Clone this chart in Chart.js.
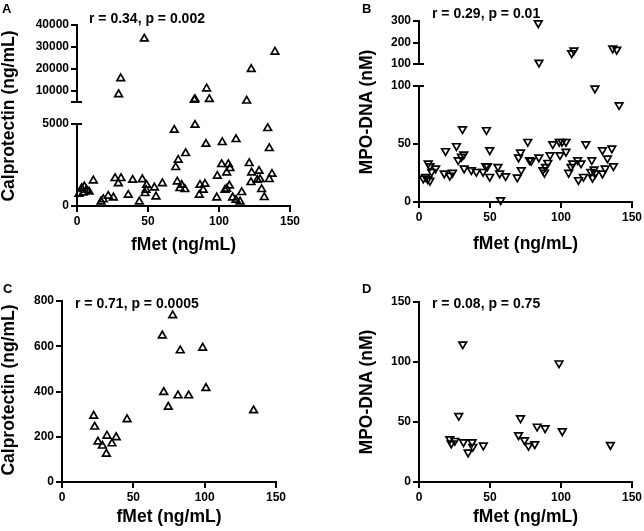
<!DOCTYPE html>
<html>
<head>
<meta charset="utf-8">
<script src="https://cdn.jsdelivr.net/npm/chart.js@4.4.0/dist/chart.umd.min.js"></script>
<style>
  body { margin: 0; background: #fff; }
  #fig { position: relative; width: 644px; height: 531px; overflow: hidden;
         font-family: "Liberation Sans", Arial, sans-serif; font-weight: bold; color: #000; }
  .box { position: absolute; }
  .lbl { position: absolute; white-space: nowrap; line-height: 1; }
  .letter { font-size: 13px; }
  .stat { font-size: 14px; }
  .ytitle { font-size: 17.5px; transform: translate(-50%, -50%) rotate(-90deg); }
</style>
</head>
<body>
<div id="fig">
  <div class="box"><canvas id="aHi"></canvas></div>
  <div class="box"><canvas id="aLo"></canvas></div>
  <div class="box"><canvas id="bHi"></canvas></div>
  <div class="box"><canvas id="bLo"></canvas></div>
  <div class="box"><canvas id="cCh"></canvas></div>
  <div class="box"><canvas id="dCh"></canvas></div>

  <div class="lbl letter" style="left:2px;top:2px">A</div>
  <div class="lbl letter" style="left:362px;top:2px">B</div>
  <div class="lbl letter" style="left:3px;top:282px">C</div>
  <div class="lbl letter" style="left:362px;top:282px">D</div>

  <div class="lbl stat" style="left:89px;top:11px">r = 0.34, p = 0.002</div>
  <div class="lbl stat" style="left:432px;top:6px">r = 0.29, p = 0.01</div>
  <div class="lbl stat" style="left:75px;top:296px">r = 0.71, p = 0.0005</div>
  <div class="lbl stat" style="left:432px;top:296px">r = 0.08, p = 0.75</div>

  <div class="lbl ytitle" style="left:9px;top:116px">Calprotectin (ng/mL)</div>
  <div class="lbl ytitle" style="left:367px;top:112px">MPO-DNA (nM)</div>
  <div class="lbl ytitle" style="left:9px;top:390px">Calprotectin (ng/mL)</div>
  <div class="lbl ytitle" style="left:367px;top:392px">MPO-DNA (nM)</div>
</div>

<script>
// A: fMet vs calprotectin, all samples
const aX = [1.4, 3.3, 5.1, 6.8, 8.5, 4.4, 11.5, 16.9, 18.5, 22, 25.6, 26.8, 31, 29.1, 36.1, 39.2,
  43.9, 46, 47.9, 49, 48.6, 54.5, 55.6, 60.1, 68.5, 71.3, 69.5, 70.6, 72.5, 76.5, 83.1, 90.8,
  102.3, 112, 134.3, 135.4, 73.7, 76, 86.6, 88.9, 86.1, 90.1, 98.8, 101.9, 106.6, 105.4, 107.7,
  98.4, 105.4, 107.3, 104.2, 116, 109.6, 112, 114.8, 121.3, 123, 128.2, 128.9, 122.5, 135.4,
  137.3, 130, 131.9, 127,
  47.4, 30.8, 29.3, 139.4, 122.7, 91.3, 83.1, 82.6, 93.2, 119.5];
const aY = [732, 1080, 1180, 976, 870, 811, 1545, 264, 406, 610, 508, 1690, 1690, 1380, 671, 1585,
  264, 1625, 773, 1280, 976, 1117, 569, 1380, 4634, 2805, 2360, 1480, 1080, 3213, 4939, 3780,
  3884, 4067, 4738, 3518, 1280, 1018, 1280, 976, 671, 1341, 1829, 2543, 2543, 2030, 2298,
  508, 1037, 1238, 976, 835, 508, 366, 264, 2603, 2030, 2134, 1628, 1445, 1628,
  1951, 1018, 530, 1585,
  33750, 15700, 8460, 27800, 19900, 11100, 6250, 5960, 6250, 5540];

// B: fMet vs MPO-DNA, all samples
const bX = [3, 4.7, 6.1, 7.7, 6.5, 7.7, 8.9, 11.7, 17.8, 21.7, 23.6, 18.7, 26.4, 27.6, 29.9, 31.5,
  30.6, 31.8, 36.9, 40.4, 45.1, 47, 48.2, 47.5, 49.8, 49.8, 55.6, 56.8, 57.5, 61, 69.2, 70.1,
  71.5, 72, 76.6, 77.8, 79, 84.4, 87.2, 88.4, 89.1, 90.7, 92.3, 94.2, 98.8, 100.7, 103.5, 99.3,
  103.5, 105.4, 107.1, 108.2, 111.7, 114.1, 112.3, 115.8, 117.5, 121.7, 123.3, 121, 124.1, 122.2,
  129.2, 132.7, 135.8, 131.1, 129.2, 136.9, 123.9, 140.9,
  83.6, 84.1, 107, 108.6, 135.8, 138.6];
const bY = [20.4, 21.8, 19.8, 18.4, 33.4, 31, 26.1, 29, 24.7, 22.7, 25.3, 44, 48.3, 36.2, 39.1, 41.1,
  62.9, 29, 27.6, 26.1, 26.1, 31, 31, 62.1, 44.8, 21.8, 30.4, 24.7, 1.7, 22.4, 21.3, 38.5,
  42.8, 27.6, 52, 36.2, 35.6, 38.5, 27.6, 25.3, 30.4, 33.9, 40.5, 50, 52, 52, 52, 40.5,
  43.4, 25.3, 30.4, 33.4, 36.2, 33.4, 19, 21.8, 50, 36.2, 28.2, 26.1, 24.7, 21,
  44.8, 37.7, 46.3, 29, 24.7, 31, 98, 83.6,
  290, 107, 151, 164, 173, 167];

// C: subgroup, calprotectin
const cX = [22.2, 22.9, 25.2, 28.3, 31.5, 31.1, 35, 38, 45.6, 70.3, 77.6, 71.3, 74.5, 82.9, 81.3,
  88.8, 98.6, 100.9, 134.3];
const cY = [292, 244, 178, 160, 204, 124, 170, 197, 277, 647, 736, 397, 332, 581, 382,
  382, 593, 415, 316];

// D: subgroup, MPO-DNA
const dX = [21.7, 22.7, 25.2, 28, 30.8, 31.3, 34.6, 37.4, 37.9, 45.3, 70.1, 71.5, 74.3, 77.1,
  81.5, 83.2, 88.8, 98.6, 100.9, 134.8];
const dY = [35.8, 32.2, 34.4, 55.2, 114.8, 33.3, 24.7, 33.3, 29.4, 30.5, 39.1, 53.2, 34.9, 30.2,
  31.6, 46.3, 44.9, 99, 42.4, 31];

const xTicks = [0, 50, 100, 150];
const aLoTicks = [0, 5000];
const aHiTicks = [10000, 20000, 30000, 40000];
const bLoTicks = [0, 50, 100];
const bHiTicks = [100, 200, 300];
const cTicks = [0, 200, 400, 600, 800];
const dTicks = [0, 50, 100, 150];

const FONT = '"Liberation Sans", Arial, sans-serif';

function pts(xs, ys, keep) {
  const out = [];
  xs.forEach((x, i) => { if (keep(ys[i])) out.push({ x: x, y: ys[i] }); });
  return out;
}

// short horizontal cap across the y axis where it is broken
const breakCap = {
  id: 'breakCap',
  afterDraw(chart, args, opts) {
    if (!opts || !opts.edge) return;
    const ys = chart.scales.y;
    const py = opts.edge === 'top' ? ys.top : ys.bottom;
    const ctx = chart.ctx;
    ctx.save();
    ctx.strokeStyle = '#000';
    ctx.lineWidth = 2;
    ctx.beginPath();
    ctx.moveTo(ys.right - 6, py);
    ctx.lineTo(ys.right + 5, py);
    ctx.stroke();
    ctx.restore();
  }
};

function makeChart(id, box, area, yMin, yMax, yTicks, showX, data, down, cap) {
  const wrap = document.getElementById(id).parentNode;
  wrap.style.left = box.x + 'px';
  wrap.style.top = box.y + 'px';
  wrap.style.width = box.w + 'px';
  wrap.style.height = box.h + 'px';

  const yW = area.left - box.x;
  const xH = box.y + box.h - area.bottom;
  const axisGrid = { display: true, drawOnChartArea: false, drawTicks: true, tickLength: 6, color: '#000', lineWidth: 2 };
  const axisBorder = { display: true, color: '#000', width: 2 };
  const tickFont = { family: FONT, size: 12, weight: 'bold' };

  return new Chart(document.getElementById(id), {
    type: 'scatter',
    data: {
      datasets: [{
        data: data,
        pointStyle: 'triangle',
        pointRotation: down ? 180 : 0,
        pointRadius: 4.4,
        pointHoverRadius: 4.4,
        pointBorderWidth: 1.7,
        pointBorderColor: '#000',
        pointBackgroundColor: 'rgba(255,255,255,0)',
        clip: false
      }]
    },
    options: {
      responsive: true,
      maintainAspectRatio: false,
      animation: false,
      events: [],
      layout: {
        padding: {
          left: 0,
          top: area.top - box.y,
          right: box.x + box.w - area.right,
          bottom: showX ? 0 : xH
        }
      },
      plugins: {
        legend: { display: false },
        tooltip: { enabled: false },
        breakCap: { edge: cap }
      },
      scales: {
        x: {
          type: 'linear',
          display: showX,
          min: 0,
          max: 150,
          afterBuildTicks: s => { s.ticks = xTicks.map(v => ({ value: v })); },
          afterFit: s => { s.height = xH; },
          ticks: { font: tickFont, color: '#000', padding: 2, maxRotation: 0 },
          grid: axisGrid,
          border: axisBorder,
          title: { display: true, text: 'fMet (ng/mL)', color: '#000', padding: 0,
                   font: { family: FONT, size: 17.5, weight: 'bold' } }
        },
        y: {
          type: 'linear',
          min: yMin,
          max: yMax,
          afterBuildTicks: s => { s.ticks = yTicks.map(v => ({ value: v })); },
          afterFit: s => { s.width = yW; },
          ticks: { font: tickFont, color: '#000', padding: 2, callback: v => String(v) },
          grid: axisGrid,
          border: axisBorder
        }
      }
    },
    plugins: [breakCap]
  });
}

const big = v => v > 5000;
const small = v => v <= 5000;
const hiB = v => v > 100;
const loB = v => v <= 100;

makeChart('aHi', { x: 0, y: 0, w: 320, h: 116 }, { left: 77, top: 25, right: 290, bottom: 109 },
  5000, 40000, aHiTicks, false, pts(aX, aY, big), false, 'bottom');
makeChart('aLo', { x: 0, y: 112, w: 320, h: 144 }, { left: 77, top: 124, right: 290, bottom: 206 },
  0, 5000, aLoTicks, true, pts(aX, aY, small), false, 'top');
makeChart('bHi', { x: 330, y: 0, w: 314, h: 78 }, { left: 419, top: 21, right: 633, bottom: 71 },
  100, 300, bHiTicks, false, pts(bX, bY, hiB), true, 'bottom');
makeChart('bLo', { x: 330, y: 74, w: 314, h: 181 }, { left: 419, top: 86, right: 633, bottom: 202 },
  0, 100, bLoTicks, true, pts(bX, bY, loB), true, 'top');
makeChart('cCh', { x: 0, y: 285, w: 320, h: 243 }, { left: 62, top: 301, right: 276, bottom: 482 },
  0, 800, cTicks, true, pts(cX, cY, () => true), false, null);
makeChart('dCh', { x: 330, y: 285, w: 314, h: 243 }, { left: 419, top: 302, right: 633, bottom: 482 },
  0, 150, dTicks, true, pts(dX, dY, () => true), true, null);
</script>
</body>
</html>
